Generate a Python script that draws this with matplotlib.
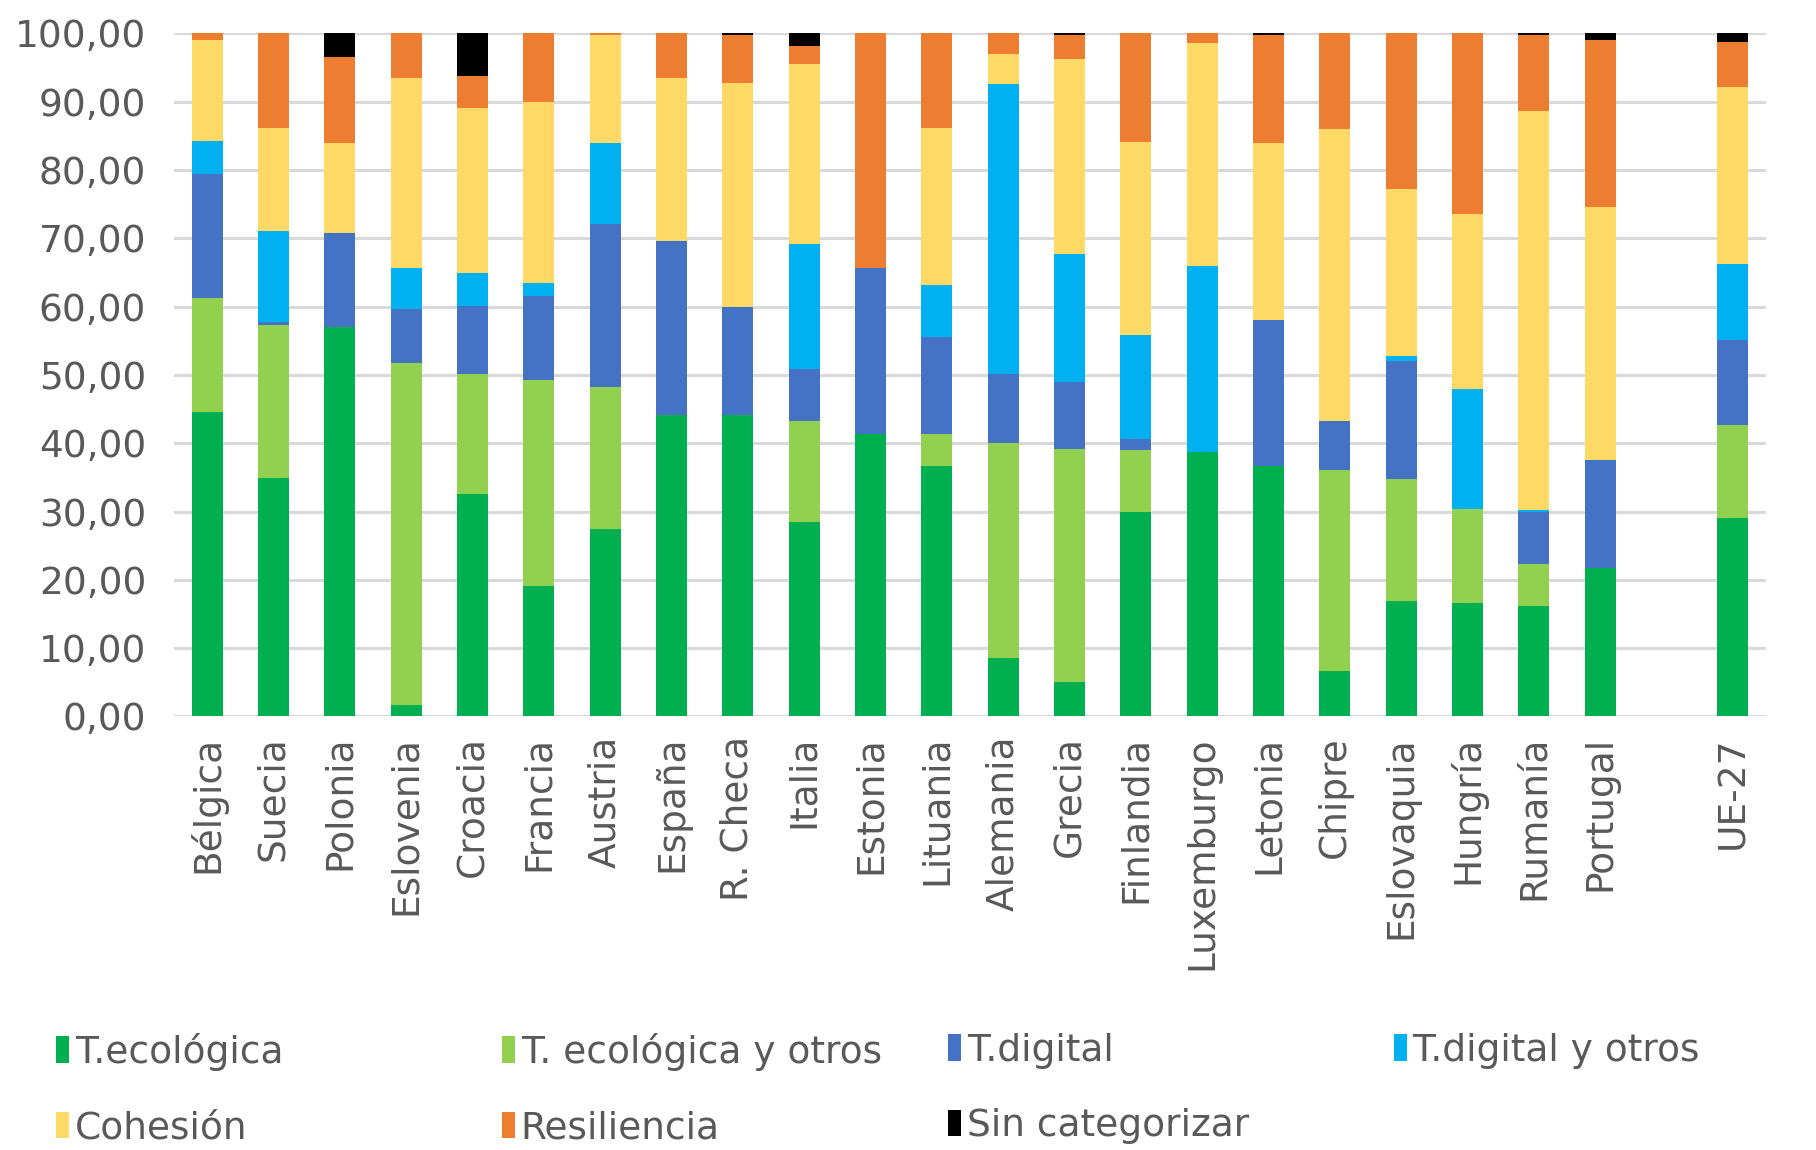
import numpy as np
import matplotlib
matplotlib.use("Agg")
import matplotlib.pyplot as plt
from matplotlib.patches import Patch

categories = ["Bélgica", "Suecia", "Polonia", "Eslovenia", "Croacia", "Francia", "Austria",
              "España", "R. Checa", "Italia", "Estonia", "Lituania", "Alemania", "Grecia",
              "Finlandia", "Luxemburgo", "Letonia", "Chipre", "Eslovaquia", "Hungría",
              "Rumanía", "Portugal", "", "UE-27"]

t_ecologica       = [44.5, 34.9, 57.0, 1.7, 32.5, 19.1, 27.4, 44.2, 44.2, 28.5, 41.3, 36.6, 8.6, 5.1, 29.9, 38.7, 36.6, 6.7, 16.9, 16.6, 16.2, 21.7, 0, 29.0]
t_ecologica_otros = [16.7, 22.4, 0.0, 50.1, 17.7, 30.1, 20.9, 0.0, 0.0, 14.8, 0.0, 4.7, 31.5, 34.1, 9.1, 0.0, 0.0, 29.4, 17.9, 13.8, 6.1, 0.0, 0, 13.6]
t_digital         = [18.2, 0.5, 13.8, 7.8, 9.9, 12.4, 23.8, 25.4, 15.7, 7.5, 24.4, 14.3, 10.1, 9.7, 1.6, 0.0, 21.5, 7.2, 17.3, 0.0, 7.7, 15.8, 0, 12.5]
t_digital_otros   = [4.9, 13.3, 0.0, 6.1, 4.8, 1.8, 11.8, 0.0, 0.0, 18.4, 0.0, 7.6, 42.4, 18.8, 15.3, 27.2, 0.0, 0.0, 0.6, 17.6, 0.2, 0.0, 0, 11.2]
cohesion          = [14.7, 15.1, 13.2, 27.7, 24.1, 26.6, 15.9, 23.8, 32.8, 26.3, 0.0, 23.0, 4.4, 28.5, 28.2, 32.7, 25.8, 42.7, 24.5, 25.5, 58.5, 37.1, 0, 25.8]
resiliencia       = [1.0, 13.8, 12.5, 6.6, 4.8, 10.0, 0.2, 6.6, 7.1, 2.6, 34.3, 13.8, 3.0, 3.6, 15.9, 1.4, 15.9, 14.0, 22.8, 26.5, 11.1, 24.4, 0, 6.7]
sin_categorizar   = [0.0, 0.0, 3.5, 0.0, 6.2, 0.0, 0.0, 0.0, 0.2, 1.9, 0.0, 0.0, 0.0, 0.2, 0.0, 0.0, 0.2, 0.0, 0.0, 0.0, 0.2, 1.0, 0, 1.2]

series_names = ["T.ecológica", "T. ecológica y otros", "T.digital", "T.digital y otros",
                "Cohesión", "Resiliencia", "Sin categorizar"]
series_vals = [t_ecologica, t_ecologica_otros, t_digital, t_digital_otros,
               cohesion, resiliencia, sin_categorizar]
colors = ["#00B050", "#92D050", "#4472C4", "#00B0F0", "#FFD966", "#ED7D31", "#000000"]

yticks = [0, 10, 20, 30, 40, 50, 60, 70, 80, 90, 100]
ytick_labels = ["0,00", "10,00", "20,00", "30,00", "40,00", "50,00", "60,00",
                "70,00", "80,00", "90,00", "100,00"]

plt.rcParams['font.family'] = ['DejaVu Sans']
text_color = "#595959"

fig = plt.figure(figsize=(18.16, 11.50), dpi=100)
ax = fig.add_axes([0.0958, 0.377, 0.8767, 0.594])

x = np.arange(len(categories))
bottom = np.zeros(len(categories))
for name, vals, col in zip(series_names, series_vals, colors):
    v = np.array(vals, dtype=float)
    ax.bar(x, v, bottom=bottom, width=0.47, color=col, label=name, zorder=3)
    bottom += v

ax.set_xlim(-0.5, len(categories) - 0.5)
ax.set_ylim(0, 100)
ax.set_yticks(yticks)
ax.set_yticklabels(ytick_labels)
ax.set_xticks(x)
ax.set_xticklabels(categories, rotation=90)
ax.tick_params(axis='both', length=0, labelsize=27, colors=text_color)
ax.tick_params(axis='y', pad=20)
ax.tick_params(axis='x', pad=14)
ax.yaxis.grid(True, color="#D9D9D9", linewidth=2.2, zorder=0)
ax.set_axisbelow(True)
for s in ax.spines.values():
    s.set_visible(False)

# Legend: two rows, four equal-width columns
handles = [Patch(facecolor=c, edgecolor='none') for c in colors]
col_x = [0.031, 0.2765, 0.522, 0.7675]
groups = [[0, 4], [1, 5], [2, 6], [3]]
for cx, g in zip(col_x, groups):
    leg = fig.legend([handles[i] for i in g], [series_names[i] for i in g],
                     loc='upper left', bbox_to_anchor=(cx, 0.102), frameon=False,
                     fontsize=27, handlelength=0.35, handleheight=0.7,
                     handletextpad=0.15, labelspacing=1.05, borderaxespad=0,
                     borderpad=0)
    for t in leg.get_texts():
        t.set_color(text_color)

fig.savefig("out.png", dpi=100)
